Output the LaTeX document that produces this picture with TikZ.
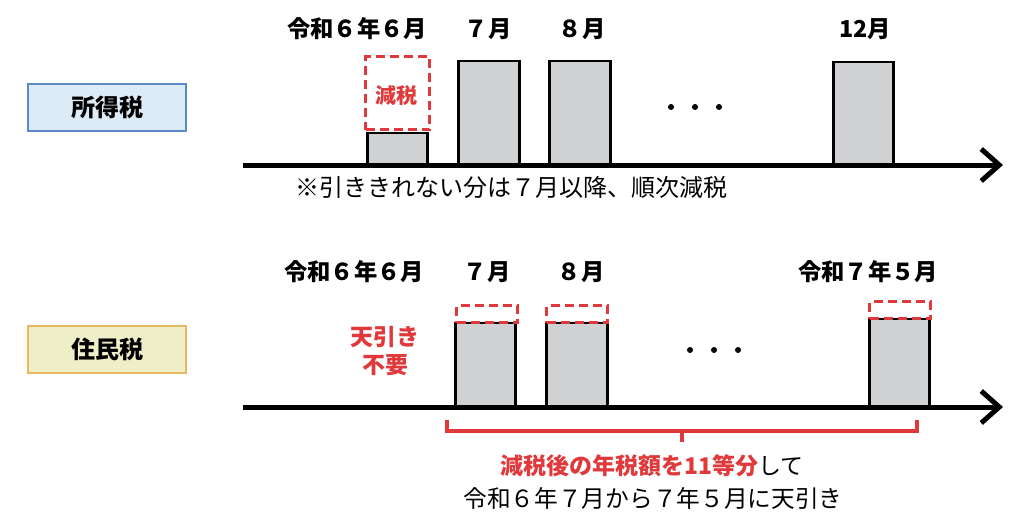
\documentclass[tikz,border=0pt]{standalone}
\usepackage{fontspec}
\setmainfont{Noto Sans CJK JP}
\usetikzlibrary{arrows.meta}
\definecolor{myred}{HTML}{E0393B}
\definecolor{bargray}{HTML}{D0D1D3}
\definecolor{bluefill}{HTML}{DCEBF5}
\definecolor{blueline}{HTML}{5A8AC6}
\definecolor{yelfill}{HTML}{EEEFC6}
\definecolor{yelline}{HTML}{E8B862}
\tikzset{
  bar/.style={draw=black, fill=bargray, line width=2.5pt, inner sep=0pt, anchor=south west},
  redbox/.style={draw=myred, line width=3pt, dash pattern=on 9pt off 5pt, inner sep=0pt, anchor=south west},
  axis/.style={line width=5pt, -{Straight Barb[length=18pt, width=32pt, line width=5pt]}},
  lbl/.style={font=\fontsize{23.3}{27}\selectfont\bfseries, inner sep=0pt},
  txt/.style={font=\fontsize{24}{28}\selectfont, inner sep=0pt},
  taxbox/.style={minimum width=158pt, minimum height=47pt, line width=1.5pt, inner sep=0pt, font=\fontsize{24}{28}\selectfont\bfseries},
  brk/.style={draw=myred, line width=3.5pt},
  dotn/.style={circle, fill=black, inner sep=0pt, minimum size=6pt}
}
\begin{document}
\begin{tikzpicture}[x=1pt,y=-1pt]
\useasboundingbox (0,0) rectangle (1016,512);
% ---------- top: income tax ----------
\node[taxbox, draw=blueline, fill=bluefill] (itax) at (107,107.5) {所得税};
\coordinate (a1s) at (243,165);
\coordinate (a1e) at (1003,165);
\node[bar, minimum width=60pt, minimum height=31pt] (t6) at (366,165) {};
\node[redbox, minimum width=64pt, minimum height=73pt] (t6r) at (364,131) {};
\node[lbl, text=myred, font=\fontsize{21}{25}\selectfont\bfseries] (gen) at (396,96) {減税};
\node[bar, minimum width=61pt, minimum height=103pt] (t7) at (457,165) {};
\node[bar, minimum width=61pt, minimum height=103pt] (t8) at (548,165) {};
\node[bar, minimum width=60pt, minimum height=102pt] (t12) at (832,165) {};
\draw[axis] (a1s) -- (a1e);
\node[dotn] (d1) at (671,107) {};
\node[dotn] (d2) at (695,107) {};
\node[dotn] (d3) at (719,107) {};
\node[lbl] (l6) at (357,29) {令和６年６月};
\node[lbl] (l7) at (488,29) {７月};
\node[lbl] (l8) at (582,29) {８月};
\node[lbl] (l12) at (865,29) {12月};
\node[txt] (note) at (511,187) {※引ききれない分は７月以降、順次減税};
% ---------- bottom: resident tax ----------
\node[taxbox, draw=yelline, fill=yelfill] (rtax) at (107,349.5) {住民税};
\coordinate (a2s) at (243,407);
\coordinate (a2e) at (1003,407);
\node[bar, minimum width=60pt, minimum height=83pt] (b7) at (454,407) {};
\node[redbox, minimum width=61pt, minimum height=17pt] (b7r) at (455,324) {};
\node[bar, minimum width=61pt, minimum height=83pt] (b8) at (545,407) {};
\node[redbox, minimum width=61pt, minimum height=17pt] (b8r) at (545,324) {};
\node[bar, minimum width=60pt, minimum height=87pt] (b5) at (868,407) {};
\node[redbox, minimum width=61pt, minimum height=17pt] (b5r) at (868,320) {};
\draw[axis] (a2s) -- (a2e);
\node[dotn] (e1) at (690,350) {};
\node[dotn] (e2) at (714,350) {};
\node[dotn] (e3) at (738,350) {};
\node[lbl] (m6) at (354,272) {令和６年６月};
\node[lbl] (m7) at (487,272) {７月};
\node[lbl] (m8) at (581,272) {８月};
\node[lbl] (m5) at (868,272) {令和７年５月};
\node[lbl, text=myred, align=center, font=\fontsize{23}{28}\selectfont\bfseries] (ten) at (385,351) {天引き\\不要};
% bracket
\coordinate (bl) at (447,420);
\coordinate (br) at (917,420);
\coordinate (bm) at (682,431);
\coordinate (bt) at (682,442);
\draw[brk] (bl) -- (bl |- bm) -- (br |- bm) -- (br);
\draw[brk] (bm) -- (bt);
\node[txt, font=\fontsize{23}{27}\selectfont] (s1) at (652,466) {\textcolor{myred}{\bfseries 減税後の年税額を11等分}して};
\node[txt, font=\fontsize{23.7}{28}\selectfont] (s2) at (653,498) {令和６年７月から７年５月に天引き};
\end{tikzpicture}
\end{document}
